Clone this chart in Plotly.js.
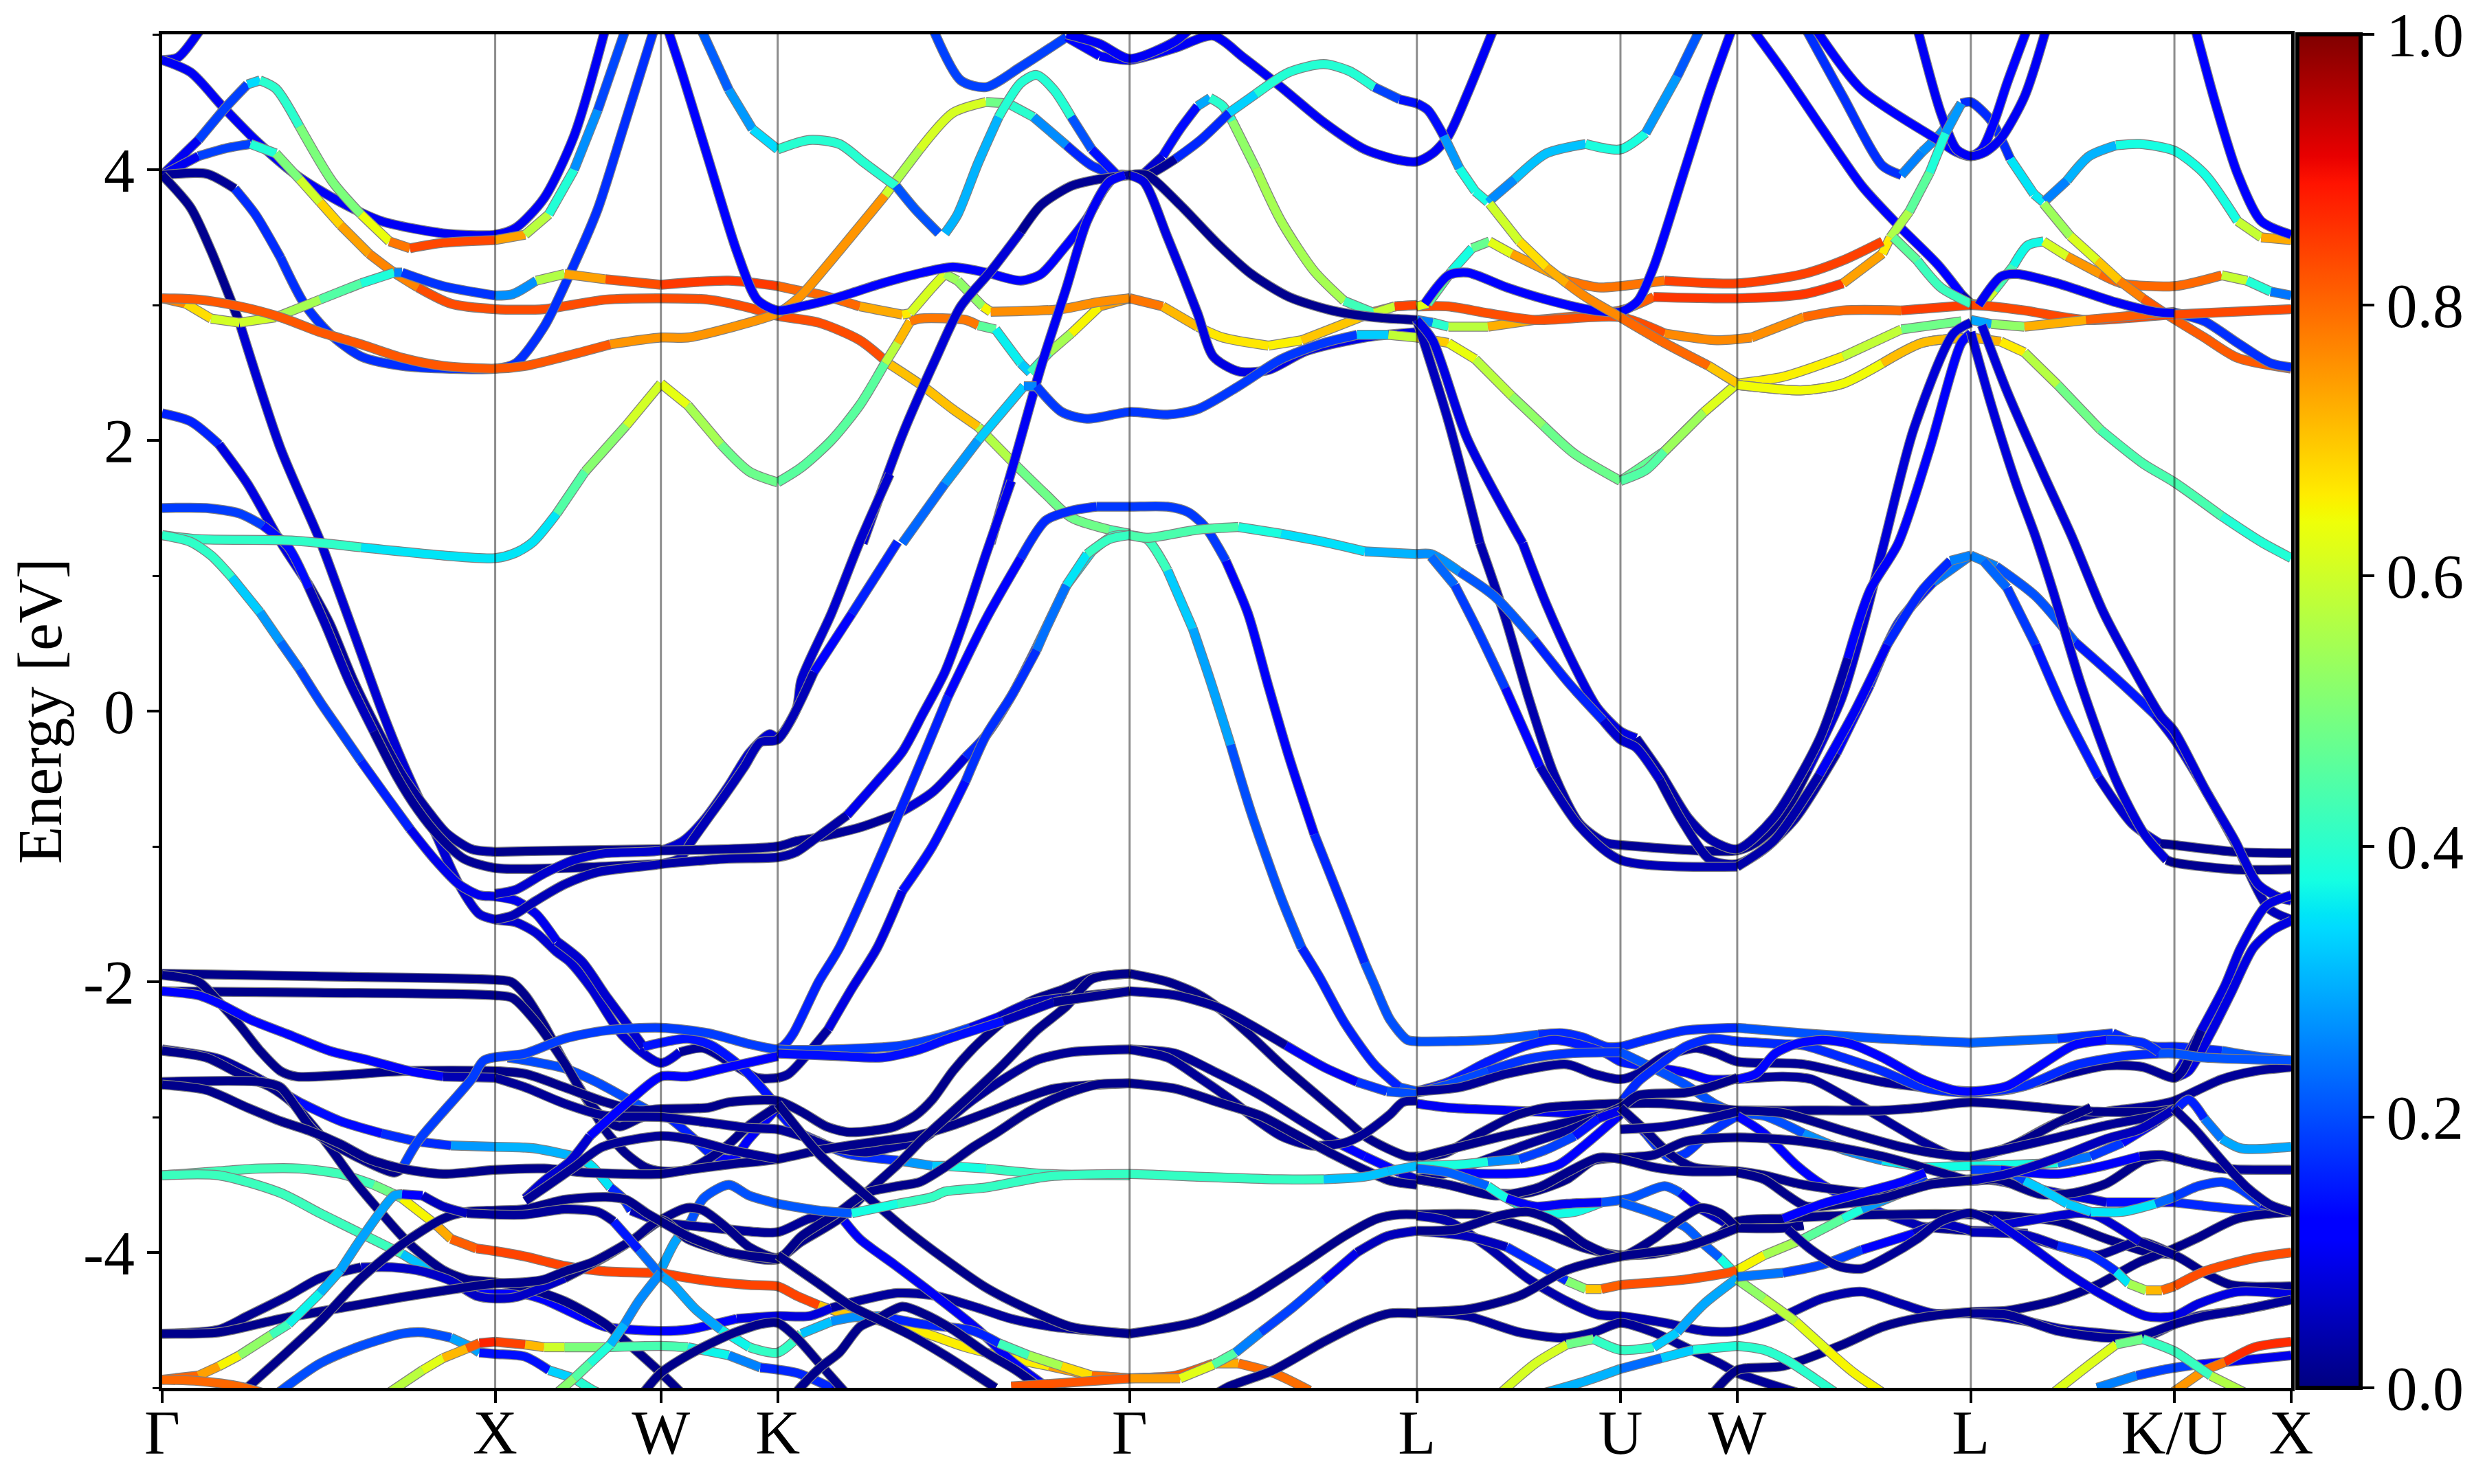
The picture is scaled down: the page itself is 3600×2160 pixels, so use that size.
<!DOCTYPE html>
<html><head><meta charset="utf-8"><script src="https://cdn.plot.ly/plotly-3.0.1.min.js"></script>
<style>html,body{margin:0;padding:0;background:#fff}</style></head><body><div id="g" style="width:3600px;height:2160px"></div>
<script>
var tickK=[103,314,419,493,716,898,1027,1101,1249,1378,1452];
var tickLabels=['Γ','X','W','K','Γ','L','U','W','L','K/U','X'];
var energyTicks=[-4,-2,0,2,4];
var energyTickText=['-4','-2','0','2','4'];
var energyMinor=[-5,-3,-1,1,3,5];
var weightTicks=[0,0.2,0.4,0.6,0.8,1];
var weightTickText=['0.0','0.2','0.4','0.6','0.8','1.0'];
// upper bands (k along the path, energy in eV, weight)
var k1=[103,113,128],e1=[4.81,4.83,5.05],w1=.07;
var k2=[103,121,141,162,188,216,242,281,314,327,345,364,384],e2=[4.81,4.72,4.47,4.22,3.96,3.76,3.62,3.53,3.52,3.57,3.79,4.25,5.05],w2=.07;
var k3=[103,126,144,157,165,175,190,211,229,247,260,281,314,333,348,364,379,397],e3=[3.96,4.22,4.47,4.63,4.66,4.6,4.32,3.91,3.67,3.47,3.42,3.46,3.48,3.52,3.67,4,4.44,5.05],w3=[.02,.15,.2,.3,.38,.42,.5,.5,.55,.72,.85,.82,.78,.7,.45,.33,.2,.18];
var k4=[103,126,144,159,175,190,203,216,234,250,265,286,314,345,384,419,449,475,493,519,545,563,585,604,620,641,663,679,703,716],e4=[3.96,4.1,4.16,4.19,4.12,3.93,3.76,3.59,3.38,3.24,3.13,3.01,2.97,2.97,3.04,3.05,3.04,2.98,2.92,2.87,2.74,2.57,2.4,2.23,2.1,1.85,1.6,1.43,1.34,1.31],w4=[.02,.15,.2,.33,.45,.55,.65,.72,.76,.78,.8,.82,.83,.84,.84,.84,.84,.84,.84,.83,.8,.72,.72,.68,.63,.5,.48,.47,.45,.42];
var k5=[103,131,149,162,178,193,209,229,255,314,327,345,364,379,395,415],e5=[3.96,3.97,3.86,3.67,3.35,3.01,2.79,2.62,2.55,2.53,2.57,2.84,3.3,3.71,4.3,5.05],w5=[.02,.02,.1,.17,.18,.18,.17,.17,.15,.12,.12,.12,.12,.12,.12,.12];
var k6=[103,121,134,152,178,203,216,229,242,255,265,276,291,304,314,327,340,353,361,375,395,419,431,446,462,480,493],e6=[3.96,3.72,3.4,2.87,1.94,1.26,.85,.43,.01,-.37,-.63,-.9,-1.28,-1.5,-1.54,-1.56,-1.64,-1.78,-1.85,-2.05,-2.4,-2.6,-2.52,-2.49,-2.59,-2.71,-2.71],w6=[.01,.01,.02,.05,.07,.07,.07,.07,.07,.07,.06,.05,.05,.04,.04,.04,.04,.04,.04,.05,.04,.03,.02,.02,.02,.02,.02];
var k7=[103,121,139,157,178,196,209,224,240,255,271,283,299,314,358,419],e7=[2.2,2.14,1.97,1.68,1.25,.93,.65,.23,-.15,-.47,-.73,-.9,-1.02,-1.04,-1.03,-1.02],w7=[.13,.1,.07,.06,.05,.04,.03,.03,.02,.02,.02,.02,.02,.01,.01,.01];
var k8=[103,131,152,167,183,196,206,221,237,252,265,278,294,314,358,419],e8=[1.5,1.5,1.46,1.37,1.21,.91,.65,.23,-.15,-.49,-.73,-.92,-1.09,-1.16,-1.16,-1.13],w8=[.18,.18,.14,.1,.08,.05,.04,.03,.02,.02,.02,.02,.02,.02,.02,.02];
var k9=[103,126,185,229,281,314,327,338,353,371,397,419,436,457,475,493,508,527,545,561,569,577,583,612,620,631,647,653,665,679,697,716],e9=[1.3,1.27,1.26,1.21,1.15,1.13,1.17,1.25,1.46,1.77,2.11,2.42,2.26,1.97,1.77,1.69,1.8,2,2.26,2.57,2.72,2.88,2.9,2.89,2.85,2.82,2.57,2.5,2.65,2.79,2.99,3.05],w9=[.42,.42,.38,.35,.33,.33,.36,.38,.42,.48,.55,.66,.6,.5,.46,.44,.45,.46,.48,.5,.65,.78,.82,.75,.5,.42,.3,.35,.5,.6,.7,.78];
var k10=[103,118,134,152,175,203,229,250,255,281,314,325,340,358,384,419,462,493,505,519,545,572,577,591,599,607,623,628,673,695,716,737,759,775,804,825,847,871,884,898],e10=[3.05,3.01,2.9,2.87,2.91,3.04,3.16,3.24,3.24,3.14,3.07,3.08,3.18,3.23,3.19,3.15,3.18,3.14,3.11,3.08,2.99,2.93,2.94,3.13,3.23,3.18,2.99,2.95,2.97,3.02,3.05,2.99,2.84,2.76,2.7,2.74,2.84,2.95,2.99,3],w10=[.82,.72,.63,.58,.62,.48,.42,.35,.12,.18,.25,.28,.45,.68,.8,.86,.84,.82,.8,.78,.76,.7,.62,.6,.58,.5,.55,.75,.75,.78,.82,.75,.68,.65,.63,.68,.72,.75,.83,.85];
var k11=[103,126,152,178,203,229,255,281,314,333,358,387,419,436,462,493,505,511,532,561,568,583,604,625,639,655,676,692,708,716],e11=[3.05,3.04,2.99,2.91,2.8,2.71,2.61,2.55,2.53,2.55,2.62,2.71,2.76,2.76,2.83,2.94,3.04,3.11,3.4,3.81,3.92,4.15,4.42,4.5,4.49,4.39,4.18,4.03,3.96,3.96],w11=[.82,.82,.83,.83,.84,.84,.83,.83,.8,.78,.78,.75,.74,.75,.77,.78,.76,.75,.72,.7,.5,.62,.6,.52,.45,.35,.15,.1,.02,.02];
var k12=[423,433,449,467,480,493,508,532,559,585,604,625,647,660,673,689,700,708,716],e12=[5.05,4.69,4.08,3.4,3.04,2.96,2.99,3.06,3.16,3.24,3.28,3.24,3.18,3.23,3.4,3.64,3.86,3.96,3.96],w12=.08;
var k13=[444,462,477,493,513,532,548,563,568,580,595],e13=[5.05,4.59,4.3,4.15,4.22,4.19,4.05,3.92,3.88,3.71,3.53],w13=[.17,.25,.3,.38,.4,.38,.4,.42,.22,.18,.07];
var k14=[599,607,620,633,647,657,668,679,692,708,716],e14=[3.53,3.67,4.05,4.39,4.64,4.7,4.59,4.39,4.15,3.96,3.96],w14=[.3,.3,.3,.38,.42,.42,.35,.25,.12,.08,.02];
var k15=[591,609,625,647,676,697,716,745,769,788,812,839,865,887,898,908,918,930,947],e15=[5.05,4.66,4.61,4.76,4.98,4.84,4.81,4.9,4.99,4.83,4.61,4.35,4.15,4.07,4.06,4.12,4.25,4.56,5.05],w15=[.2,.18,.18,.14,.1,.07,.07,.07,.06,.06,.06,.06,.07,.07,.07,.08,.08,.08,.08];
var k16=[676,697,716,745,755],e16=[5,4.93,4.82,4.95,5.05],w16=.07;
var k17=[547,572,593,609,628,647,660,679,692,716],e17=[1.24,2.04,2.6,2.99,3.25,3.54,3.74,3.88,3.92,3.96],w17=[.06,.06,.06,.05,.04,.03,.02,.01,.01,.01];
var k18=[628,644,660,676,689,703,713],e18=[1.24,1.89,2.55,3.13,3.62,3.91,3.96],w18=.07;
var k19=[724,737,748,759,767,775,781,796,812,833,852,871,884,898],e19=[3.96,4.1,4.3,4.47,4.53,4.47,4.36,4.01,3.62,3.25,3.03,2.94,2.99,3],w19=[.02,.08,.1,.2,.38,.42,.5,.55,.55,.55,.5,.35,.83,.85];
var k20=[716,727,745,761,779,796,817,839,855,871,887,898,905,915,925,935,943,945,960,980,1005,1027,1043,1063,1078],e20=[3.96,3.96,4.08,4.22,4.42,4.56,4.72,4.78,4.73,4.61,4.52,4.49,4.44,4.25,4.01,3.84,3.76,3.78,3.93,4.12,4.19,4.15,4.27,4.69,5.05],w20=[.02,.02,.1,.15,.28,.38,.42,.42,.35,.22,.12,.08,.1,.2,.35,.4,.35,.22,.3,.33,.38,.38,.33,.22,.2];
var k21=[716,727,748,772,793,817,844,871,898],e21=[3.96,3.96,3.74,3.45,3.23,3.06,2.96,2.91,2.89],w21=[.01,.01,.01,.01,.01,.01,.02,.02,.02];
var k22=[716,725,740,759,769,785,804,828,865,898],e22=[3.96,3.91,3.5,2.94,2.62,2.51,2.52,2.66,2.76,2.8],w22=.06;
var k23=[572,599,620,649,657,673,689,716,740,759,785,812,839,860,880,898,918,935,958,978,998,1027,1055,1080,1101],e23=[1.24,1.68,2,2.4,2.4,2.21,2.16,2.21,2.19,2.23,2.4,2.6,2.72,2.78,2.78,2.76,2.72,2.6,2.33,2.11,1.9,1.7,1.92,2.21,2.42],w23=[.2,.25,.3,.35,.12,.15,.17,.15,.15,.15,.17,.18,.18,.2,.45,.72,.67,.6,.55,.5,.46,.44,.5,.58,.66];
var k24=[898,908,918,943,973,1027,1048,1101,1143,1168,1193,1198],e24=[2.89,2.87,2.84,2.84,2.89,2.96,3.06,3.05,3.08,3.16,3.38,3.5],w24=[.2,.3,.5,.65,.8,.82,.85,.86,.85,.78,.7,.62];
var k25=[898,918,943,973,1027,1055,1088,1110,1143,1168,1205,1249],e25=[2.99,2.99,2.94,2.89,2.91,2.79,2.74,2.76,2.91,2.96,2.96,3],w25=[.83,.83,.83,.83,.82,.78,.75,.74,.78,.82,.84,.85];
var k26=[898,905,920,933,944,958,993,1013,1027,1055,1101,1143,1168,1193],e26=[2.99,3.01,3.25,3.42,3.47,3.38,3.18,3.13,3.14,3.18,3.16,3.23,3.33,3.47],w26=[.7,.55,.35,.4,.55,.7,.78,.78,.8,.84,.85,.85,.83,.7];
var k27=[903,918,930,955,980,1010,1027,1038,1048,1068,1083,1098],e27=[3.01,3.22,3.24,3.13,3.04,2.96,2.95,3.03,3.28,4.01,4.56,5.05],w27=.08;
var k28=[944,963,980,993,1005,1027,1055,1083,1101,1130,1168,1205,1243],e28=[3.75,3.47,3.28,3.16,3.06,2.91,2.72,2.55,2.42,2.47,2.62,2.82,2.88],w28=[.55,.65,.7,.75,.78,.82,.78,.72,.66,.65,.62,.55,.42];
var k29=[1101,1143,1168,1193,1218,1249,1268,1283,1304,1331,1358,1378,1408,1433,1452],e29=[2.41,2.37,2.42,2.57,2.72,2.76,2.73,2.65,2.41,2.08,1.83,1.69,1.44,1.25,1.13],w29=[.65,.63,.65,.7,.72,.74,.7,.62,.52,.45,.44,.42,.4,.38,.33];
var k30=[1110,1130,1155,1180,1203,1228,1243,1249],e30=[5.05,4.73,4.3,3.88,3.59,3.3,3.08,3.01],w30=[.08,.08,.08,.08,.08,.07,.04,.03];
var k31=[1144,1168,1193,1205,1218,1230,1243,1249,1262,1274,1289,1295],e31=[5.05,4.54,4.03,3.96,4.13,4.27,4.49,4.5,4.36,4.08,3.82,3.76],w31=[.12,.15,.15,.22,.28,.25,.12,.1,.18,.32,.38,.33];
var k32=[1150,1180,1228,1240,1249,1256,1264,1272,1285],e32=[5.05,4.59,4.22,4.13,4.1,4.15,4.36,4.64,5.05],w32=.08;
var k33=[1215,1230,1240,1249,1258,1268,1283,1297],e33=[5.05,4.42,4.15,4.1,4.13,4.23,4.54,5.05],w33=.07;
var k34=[1198,1210,1223,1233,1243],e34=[3.5,3.69,3.98,4.27,4.49],w34=[.62,.5,.42,.35,.2];
var k35=[1200,1215,1230,1249,1256,1264,1276,1285,1295,1310,1331,1345,1378,1408,1424,1439,1452],e35=[3.5,3.33,3.13,3.01,3,3.11,3.29,3.44,3.47,3.36,3.23,3.16,3.14,3.22,3.18,3.1,3.07],w35=[.5,.42,.42,.65,.7,.5,.36,.38,.5,.72,.78,.82,.8,.68,.5,.28,.2];
var k36=[1296,1310,1324,1341,1356,1378,1397,1418,1433,1452],e36=[3.77,3.92,4.1,4.18,4.19,4.14,3.97,3.62,3.5,3.48],w36=[.22,.28,.32,.36,.38,.38,.38,.5,.68,.78];
var k37=[1295,1312,1329,1343,1358,1376,1397,1418,1452],e37=[3.75,3.51,3.33,3.18,3.05,2.91,2.76,2.61,2.53],w37=[.5,.58,.65,.75,.8,.82,.8,.82,.83];
var k38=[1376,1397,1418,1439,1452],e38=[2.95,2.88,2.72,2.57,2.54],w38=.14;
var k39=[1391,1404,1418,1433,1452],e39=[5.05,4.49,3.97,3.62,3.52],w39=.08;
var k40=[1249,1262,1283,1322,1378,1452],e40=[3,2.99,2.96,2.89,2.93,2.97],w40=[.85,.83,.82,.82,.83,.85];
var k41=[1249,1262,1283,1322,1378],e41=[2.89,2.86,2.84,2.89,2.95],w41=[.15,.4,.65,.8,.82];
var k42=[1254,1268,1278,1304,1341,1366,1378],e42=[3,3.21,3.23,3.16,3.02,2.95,2.94],w42=.07;
var k43=[1027,1043,1055,1080,1101],e43=[1.7,1.78,1.92,2.21,2.42],w43=[.44,.46,.5,.58,.66];
var k44=[1027,1055,1083,1101],e44=[2.91,2.72,2.55,2.42],w44=[.82,.78,.72,.68];
var k45=[1101,1143,1168,1193,1218,1249],e45=[2.41,2.37,2.42,2.57,2.72,2.76],w45=[.65,.63,.65,.7,.72,.75];
var k46=[898,918,938],e46=[2.89,2.14,1.24],w46=.04;
var k47=[898,908,930,965],e47=[2.89,2.74,2.01,1.24],w47=.06;
var k48=[938,954,969,985,1001,1017,1027,1101,1113,1128,1146,1167,1182,1194,1213,1238,1249],e48=[1.24,.69,.09,-.47,-.83,-.97,-.99,-1.03,-.97,-.81,-.43,.09,.69,1.24,2.09,2.79,2.87],w48=[.04,.04,.04,.03,.02,.02,.01,.01,.02,.03,.05,.06,.06,.06,.06,.06,.03];
var k49=[965,980,998,1012,1027,1037,1052,1070,1084,1101,1124,1153,1171,1185,1203,1223,1243,1249],e49=[1.24,.79,.33,.03,-.15,-.2,-.45,-.79,-.95,-1.02,-.79,-.21,.39,.89,1.24,1.94,2.72,2.79],w49=[.07,.07,.06,.05,.05,.04,.03,.02,.02,.02,.03,.05,.07,.08,.08,.08,.06,.04];
var k50=[898,907,925,947,972,994,1016,1027,1037,1052,1066,1084,1101,1117,1138,1164,1185,1203,1225,1249],e50=[1.16,1.16,1.03,.85,.53,.21,-.07,-.21,-.27,-.51,-.81,-1.1,-1.13,-1.03,-.79,-.31,.19,.65,.95,1.15],w50=[.28,.25,.22,.2,.13,.1,.06,.05,.04,.03,.02,.02,.02,.03,.05,.07,.1,.12,.2,.28];
var k51=[907,922,936,954,976,1001,1027,1101,1124,1153,1175,1196,1218,1236,1249],e51=[1.14,.93,.61,.17,-.41,-.85,-1.1,-1.15,-.96,-.47,-.01,.49,.89,1.11,1.15],w51=[.25,.2,.13,.1,.05,.03,.03,.02,.04,.06,.08,.1,.15,.22,.28];
var k52=[1249,1265,1290,1315,1344,1366,1378,1398,1420,1438,1452],e52=[1.15,1.07,.85,.51,.21,-.03,-.21,-.59,-1.05,-1.46,-1.54],w52=[.28,.22,.18,.12,.09,.07,.06,.05,.04,.04,.04];
var k53=[1257,1272,1290,1308,1330,1351,1369,1378,1416,1452],e53=[1.11,.91,.49,.01,-.49,-.83,-.98,-.99,-1.04,-1.05],w53=[.25,.2,.12,.09,.06,.04,.02,.02,.01,.01];
var k54=[1249,1262,1278,1290,1301,1319,1341,1359,1373,1378,1416,1452],e54=[2.8,2.26,1.67,1.29,.89,.19,-.51,-.91,-1.1,-1.12,-1.17,-1.17],w54=[.05,.06,.07,.07,.06,.06,.05,.03,.02,.02,.01,.01];
var k55=[1256,1272,1295,1313,1333,1355,1369,1378,1398,1416,1431,1445,1452],e55=[2.85,2.36,1.75,1.29,.73,.25,-.03,-.15,-.59,-.95,-1.28,-1.38,-1.4],w55=[.06,.07,.07,.07,.07,.07,.06,.05,.04,.04,.04,.04,.04];
// mid bands
var k56=[103,121,134,147,165,178,190,203,216,229,245,260,276,291,304,314,327,340,353,369,384,398,408,419,436,451,470,489,493,505,519,537,569,591,599,625,663,716],e56=[1.3,1.25,1.15,.99,.73,.51,.31,.07,-.15,-.37,-.63,-.87,-1.1,-1.28,-1.36,-1.37,-1.4,-1.5,-1.7,-1.85,-2.1,-2.32,-2.48,-2.45,-2.42,-2.47,-2.63,-2.87,-2.95,-3.1,-3.18,-3.27,-3.32,-3.36,-3.36,-3.38,-3.42,-3.43],w56=[.42,.42,.38,.35,.3,.25,.2,.18,.15,.12,.1,.08,.07,.07,.06,.06,.06,.06,.05,.05,.05,.05,.08,.1,.1,.08,.1,.1,.1,.1,.12,.15,.25,.3,.35,.4,.42,.42];
var k57=[314,327,345,364,384,419,433,446,462,475,488,493,505,508,527,545,564],e57=[-1.35,-1.32,-1.2,-1.1,-1.05,-1.03,-.96,-.81,-.55,-.31,-.17,-.2,.02,.23,.72,1.25,1.75],w57=.05;
var k58=[314,325,340,358,379,419,431,438,449,459,472,482,493,516,540,569],e58=[-1.54,-1.51,-1.4,-1.28,-1.19,-1.13,-1.09,-.97,-.79,-.63,-.41,-.23,-.21,.29,.72,1.25],w58=[.04,.04,.03,.03,.03,.03,.03,.03,.03,.04,.05,.05,.05,.07,.1,.13];
var k59=[419,493,505,516,545,569,591,612,625,641,657,676,692,705,716],e59=[-1.03,-1,-.96,-.94,-.86,-.76,-.6,-.34,-.18,.11,.47,.93,1.18,1.29,1.3],w59=[.02,.02,.02,.02,.03,.05,.06,.1,.12,.15,.2,.3,.4,.42,.42];
var k60=[419,462,493,505,516,537,556,572,585,599,612,625,641],e60=[-1.13,-1.09,-1.08,-1.04,-.95,-.77,-.52,-.3,-.02,.29,.7,1.16,1.7],w60=[.02,.02,.03,.03,.04,.05,.06,.07,.07,.07,.07,.07,.07];
var k61=[493,497,503,519,532,572,601,625,647,663,679,695,716,740,753,764,777,791,804,817,833,852,865,871,881,892,898,943,975,990,1003,1018,1027,1043,1068,1101,1143,1193,1249,1304,1339,1354,1366,1378,1408,1429,1452],e61=[-2.5,-2.47,-2.38,-2,-1.75,-.7,.11,.68,1.13,1.41,1.48,1.51,1.51,1.51,1.47,1.36,1.11,.72,.18,-.34,-.91,-1.47,-1.86,-2.02,-2.28,-2.43,-2.44,-2.43,-2.39,-2.38,-2.41,-2.48,-2.48,-2.43,-2.36,-2.34,-2.38,-2.42,-2.45,-2.42,-2.38,-2.45,-2.48,-2.48,-2.51,-2.55,-2.58],w61=[.15,.12,.1,.1,.1,.1,.07,.08,.1,.12,.17,.18,.18,.18,.15,.12,.07,.07,.07,.08,.1,.15,.2,.2,.2,.2,.22,.2,.12,.1,.1,.12,.15,.15,.17,.2,.2,.22,.25,.18,.1,.1,.15,.15,.2,.22,.25];
var k62=[493,500,525,540,556,572,591,612,625,641,657,663,676,689,703,716],e62=[-2.71,-2.68,-2.35,-2.05,-1.75,-1.33,-1,-.52,-.18,.11,.45,.61,.93,1.16,1.27,1.3],w62=[.02,.03,.05,.06,.07,.08,.1,.12,.14,.16,.22,.25,.3,.4,.42,.42];
var k63=[716,727,740,756,767,780,793,812,825,836,852,871,887,898],e63=[1.3,1.27,1.04,.61,.23,-.25,-.75,-1.38,-1.75,-1.96,-2.3,-2.61,-2.78,-2.81],w63=[.42,.42,.35,.3,.27,.22,.2,.17,.1,.1,.1,.14,.2,.2];
var k64=[419,428,438,446,462,475,493],e64=[-4.13,-3.92,-3.77,-3.6,-3.5,-3.58,-3.64],w64=[.3,.27,.2,.2,.2,.2,.22];
var k65=[716,727,759,785,812,839,865,898],e65=[1.3,1.28,1.34,1.36,1.31,1.25,1.18,1.16],w65=[.45,.45,.42,.4,.36,.33,.3,.3];
var k66=[322,333,358,378,397,419,423,451,464,475,493],e66=[-2.56,-2.58,-2.64,-2.74,-2.86,-3,-3,-3.28,-3.31,-3.16,-2.93],w66=[.2,.2,.2,.2,.18,.12,.1,.08,.08,.06,.03];
var k67=[1378,1395,1410,1420,1436,1452],e67=[-2.71,-2.36,-2.03,-1.75,-1.44,-1.36],w67=.06;
var k68=[1378,1387,1401,1414,1428,1440,1452],e68=[-2.71,-2.66,-2.38,-2.08,-1.75,-1.62,-1.55],w68=.06;
// lower bands
var k69=[103,200,314,324,333,345,358,371,384,397,409,419,436,449,462,475,493],e69=[-1.94,-1.96,-1.985,-2,-2.1,-2.32,-2.6,-2.85,-3.1,-3.27,-3.37,-3.4,-3.39,-3.31,-3.2,-3.06,-2.92],w69=.01;
var k70=[103,200,314,325,340,358,371,384,393,405,419],e70=[-2.07,-2.08,-2.1,-2.12,-2.3,-2.6,-2.85,-3.02,-3.07,-3.01,-2.95],w70=.01;
var k71=[103,126,139,152,165,178,188,216,255,314,333,358,384,405,419,449,462,493,508,524,537,553,567,580,591,604,617,633,652,673,692,716],e71=[-1.95,-2,-2.15,-2.32,-2.51,-2.66,-2.7,-2.69,-2.66,-2.66,-2.68,-2.78,-2.89,-2.95,-2.94,-2.93,-2.89,-2.88,-2.96,-3.07,-3.11,-3.1,-3.07,-2.99,-2.87,-2.66,-2.49,-2.32,-2.15,-2.06,-1.97,-1.94],w71=.01;
var k72=[103,126,139,159,183,209,234,260,281,314,333,358,384,419,449,475,493,508,513,527,548,567,585,604,617,636,657,679,716],e72=[-2.07,-2.1,-2.16,-2.28,-2.39,-2.51,-2.58,-2.66,-2.7,-2.71,-2.78,-2.9,-2.99,-3,-3.04,-3.08,-3.09,-3.14,-3.16,-3.22,-3.26,-3.22,-3.16,-2.99,-2.87,-2.72,-2.58,-2.52,-2.5],w72=[.08,.08,.08,.08,.08,.08,.1,.1,.05,.02,.02,.02,.02,.02,.02,.02,.02,.02,.02,.02,.02,.02,.02,.02,.02,.02,.02,.02,.02];
var k73=[103,139,165,190,216,237,250,255,276,286,302,314,333,358,384,410,419,423,449,475,493,505,519,540,556,585,612,636,665,692,716],e73=[-3.43,-3.4,-3.38,-3.38,-3.42,-3.5,-3.57,-3.6,-3.79,-3.9,-3.97,-3.99,-4.03,-4.1,-4.14,-4.15,-4.15,-4.16,-4.21,-4.24,-4.25,-4.32,-4.39,-4.47,-4.5,-4.59,-4.7,-4.77,-4.84,-4.91,-4.93],w73=[.42,.42,.42,.42,.45,.47,.5,.62,.68,.78,.84,.85,.84,.84,.87,.87,.85,.82,.8,.83,.83,.83,.72,.68,.65,.65,.65,.68,.7,.78,.84];
var k74=[103,139,178,203,229,255,271,296,307,333,345,371,384,419,436,467,493,513,527,543,569,593,620,641,668,716],e74=[-3.43,-3.43,-3.56,-3.71,-3.86,-4.01,-4.12,-4.26,-4.3,-4.31,-4.35,-4.49,-4.55,-4.58,-4.57,-4.49,-4.47,-4.47,-4.41,-4.36,-4.3,-4.32,-4.41,-4.49,-4.55,-4.6],w74=[.42,.42,.42,.42,.42,.33,.3,.1,.08,.08,.08,.08,.08,.08,.08,.07,.05,.05,.04,.02,.02,.02,.02,.02,.02,.02];
var k75=[103,139,165,190,216,242,265,286,314,338,364,374,387,395,400,419,436,462,493,513,532,545,567,593,620,641,663],e75=[-2.5,-2.57,-2.72,-2.89,-3.03,-3.12,-3.18,-3.21,-3.22,-3.23,-3.29,-3.35,-3.52,-3.6,-3.69,-3.78,-3.8,-3.83,-3.85,-3.75,-3.72,-3.9,-4.09,-4.32,-4.57,-4.8,-4.99],w75=[.02,.03,.05,.08,.1,.12,.15,.25,.3,.3,.35,.35,.15,.1,.05,.02,.02,.02,.02,.02,.07,.07,.07,.07,.07,.07,.07];
var k76=[103,131,152,172,185,196,209,224,242,260,281,296,314,333,358,384,397,419,433],e76=[-2.51,-2.56,-2.68,-2.78,-2.89,-3.03,-3.22,-3.46,-3.71,-3.94,-4.13,-4.2,-4.22,-4.26,-4.36,-4.53,-4.66,-4.89,-5.05],w76=.01;
var k77=[103,165,178,188,196,203,229,250,255,265,299,307,333,358,384,419,449,475,493,527,572,596,615,633,652,673,716],e77=[-2.74,-2.74,-2.78,-2.93,-3.06,-3.14,-3.31,-3.41,-3.38,-3.18,-2.72,-2.58,-2.53,-2.42,-2.36,-2.34,-2.38,-2.46,-2.5,-2.5,-2.47,-2.41,-2.34,-2.26,-2.16,-2.12,-2.07],w77=[.01,.01,.01,.01,.01,.01,.01,.01,.15,.15,.15,.2,.2,.2,.2,.2,.18,.12,.18,.2,.12,.1,.08,.05,.03,.01,.01];
var k78=[103,131,157,178,196,216,234,255,281,314,345,371,419,436,462,493,521,556,580,604,625,647,668,716],e78=[-2.76,-2.8,-2.93,-3.03,-3.1,-3.2,-3.31,-3.38,-3.42,-3.39,-3.38,-3.41,-3.42,-3.39,-3.35,-3.31,-3.24,-3.18,-3.14,-3.06,-2.97,-2.87,-2.79,-2.75],w78=.01;
var k79=[103,139,157,183,203,229,250,268,286,302,314,327,358,384,402,419,436,446,462,475,493,508,532,549,569,585,601,617,636,657,676,692,716],e79=[-4.6,-4.57,-4.47,-4.32,-4.19,-4.11,-4.11,-4.14,-4.21,-4.32,-4.34,-4.33,-4.19,-4.03,-3.9,-3.76,-3.67,-3.69,-3.83,-3.96,-4.04,-3.92,-3.75,-3.56,-3.35,-3.16,-2.99,-2.82,-2.61,-2.36,-2.18,-1.98,-1.94],w79=[.01,.01,.02,.02,.02,.04,.05,.05,.05,.05,.06,.02,.01,.01,.01,.01,.01,.01,.01,.01,.01,.01,.01,.01,.01,.01,.01,.01,.01,.01,.01,.01,.01];
var k80=[103,139,178,216,255,294,314,333,345,358,376,402,419,436,462,493,508,532,549,569,583,599,617,631,652,673,695,716],e80=[-4.6,-4.59,-4.49,-4.41,-4.33,-4.26,-4.23,-4.22,-4.2,-4.14,-4.07,-3.9,-3.76,-3.9,-4,-4.05,-3.88,-3.7,-3.56,-3.51,-3.48,-3.37,-3.22,-3.12,-2.96,-2.84,-2.76,-2.75],w80=.01;
var k81=[152,178,203,229,255,281,296,314,333,358,384,397,410,419,436,453,462,493],e81=[-5.05,-4.78,-4.51,-4.19,-3.94,-3.75,-3.7,-3.69,-3.68,-3.61,-3.59,-3.61,-3.71,-3.77,-3.88,-3.96,-4,-4.05],w81=.01;
var k82=[103,126,139,152,172,183,203,216,229,250,255,268,281,296,314,333,358,379,389,405,419,426,441,457,475,493,508,527,540,558,585,617,633,652,673,692,716],e82=[-4.94,-4.91,-4.84,-4.76,-4.61,-4.53,-4.3,-4.13,-3.9,-3.58,-3.57,-3.58,-3.66,-3.71,-3.72,-3.72,-3.68,-3.7,-3.77,-3.98,-4.17,-4.23,-4.42,-4.57,-4.7,-4.74,-4.6,-4.51,-4.48,-4.47,-4.53,-4.58,-4.67,-4.76,-4.84,-4.91,-4.93],w82=[.83,.78,.7,.6,.45,.4,.33,.28,.27,.3,.15,.05,.03,.02,.02,.02,.02,.03,.08,.15,.28,.28,.3,.33,.4,.42,.35,.28,.25,.1,.1,.15,.35,.5,.6,.75,.84];
var k83=[103,126,152,170],e83=[-4.94,-4.95,-4.99,-5.05],w83=.8;
var k84=[175,203,229,255,268,286,299,304,314,333,348,364,378,395],e84=[-5.05,-4.82,-4.69,-4.6,-4.59,-4.63,-4.7,-4.74,-4.75,-4.77,-4.87,-4.93,-5.03,-5.1],w84=[.2,.2,.2,.2,.2,.1,.42,.1,.08,.1,.28,.38,.4,.4];
var k85=[245,268,281,296,304,314,333,345,358,384,419,436,462,482,505,527,540],e85=[-5.05,-4.87,-4.78,-4.71,-4.67,-4.66,-4.68,-4.7,-4.7,-4.7,-4.69,-4.7,-4.76,-4.85,-4.89,-5,-5.05],w85=[.55,.6,.65,.78,.85,.9,.78,.65,.55,.45,.42,.4,.33,.15,.1,.07,.07];
var k86=[352,364,374,387,396,405,419],e86=[-5.05,-4.93,-4.82,-4.68,-4.53,-4.36,-4.15],w86=[.55,.48,.42,.35,.25,.25,.28];
var k87=[407,419,436,462,482,493,505,521,537],e87=[-5.05,-4.89,-4.76,-4.61,-4.53,-4.52,-4.63,-4.84,-5.05],w87=.01;
var k88=[500,508,521,532,545,556,572,585,604,625,644,665],e88=[-5.1,-4.99,-4.84,-4.74,-4.55,-4.49,-4.4,-4.45,-4.57,-4.74,-4.87,-5.05],w88=.01;
var k89=[493,519,540,556,577,599,631],e89=[-4.02,-4.23,-4.4,-4.49,-4.61,-4.76,-5],w89=.01;
var k90=[641,679,716,745,769,785,807,830],e90=[-4.99,-4.96,-4.93,-4.91,-4.82,-4.82,-4.89,-5.02],w90=[.82,.82,.84,.8,.68,.78,.8,.8];
var k91=[716,748,769,783,799,820,839,860,879,898],e91=[-4.93,-4.93,-4.83,-4.74,-4.59,-4.4,-4.21,-4,-3.88,-3.84],w91=[.84,.65,.6,.3,.2,.15,.08,.05,.03,.02];
var k92=[770,779,807,839,865,881,898],e92=[-5.05,-4.99,-4.87,-4.66,-4.51,-4.45,-4.45],w92=.01;
var k93=[716,759,791,825,852,873,887,898],e93=[-4.6,-4.51,-4.34,-4.09,-3.88,-3.75,-3.72,-3.72],w93=.01;
var k94=[493,519,532,551,572,599,625,652,679,716],e94=[-2.9,-3.27,-3.41,-3.6,-3.81,-4.05,-4.26,-4.42,-4.55,-4.6],w94=.01;
var k95=[716,740,759,772,791,812,833,852,865,879,892,898],e95=[-1.94,-2,-2.09,-2.19,-2.38,-2.61,-2.82,-3.01,-3.14,-3.23,-3.29,-3.29],w95=.01;
var k96=[716,745,772,793,815,839,860,879,898],e96=[-2.07,-2.1,-2.19,-2.32,-2.47,-2.63,-2.74,-2.81,-2.83],w96=[.01,.01,.02,.03,.07,.07,.1,.2,.2];
var k97=[716,745,769,799,825,846,865,887,898],e97=[-2.5,-2.53,-2.66,-2.84,-3.03,-3.18,-3.29,-3.41,-3.46],w97=[.01,.01,.02,.02,.03,.05,.1,.06,.03];
var k98=[716,740,759,780,793,812,831,852,865,881,889,898],e98=[-2.5,-2.56,-2.7,-2.87,-2.99,-3.14,-3.21,-3.19,-3.12,-2.98,-2.89,-2.88],w98=.02;
var k99=[716,745,772,799,820,844,865,881,898],e99=[-2.75,-2.79,-2.89,-2.99,-3.12,-3.27,-3.39,-3.47,-3.5],w99=.01;
var k100=[493,519,540,569,591,599,625,663,716,759,812,839,865,880,898],e100=[-3.64,-3.69,-3.71,-3.64,-3.59,-3.55,-3.52,-3.44,-3.42,-3.44,-3.46,-3.46,-3.44,-3.4,-3.36],w100=[.22,.2,.35,.4,.4,.42,.42,.42,.42,.42,.4,.33,.3,.2,.42];
var k101=[493,532,559,583,599,617,636,668,716],e101=[-2.53,-2.55,-2.56,-2.5,-2.43,-2.36,-2.29,-2.15,-2.07],w101=[.1,.12,.12,.08,.08,.08,.05,.02,.01];
var k102=[333,345,361,374,400,419,436,462,493],e102=[-3.6,-3.47,-3.33,-3.14,-2.87,-2.7,-2.7,-2.63,-2.55],w102=[.04,.05,.06,.08,.08,.08,.08,.08,.08];
// L to U to W
var k103=[898,918,943,968,985,1000,1018,1027,1048,1068,1083,1101,1130,1148,1168,1193,1218,1238,1249,1272,1304,1335,1362,1378,1391,1408,1429,1452],e103=[-2.81,-2.74,-2.59,-2.47,-2.43,-2.46,-2.53,-2.59,-2.63,-2.67,-2.72,-2.72,-2.7,-2.72,-2.84,-3.01,-3.18,-3.29,-3.3,-3.23,-3.04,-2.96,-2.92,-2.88,-2.81,-2.72,-2.66,-2.63],w103=[.1,.1,.1,.1,.1,.1,.1,.1,.07,.07,.07,.04,.02,.02,.02,.02,.02,.02,.02,.02,.02,.02,.02,.02,.02,.02,.02,.02];
var k104=[898,918,943,968,993,1027,1043,1068,1088,1101,1118,1143,1168,1193,1218,1249,1279,1304,1325,1345,1366,1378],e104=[-2.82,-2.76,-2.66,-2.57,-2.53,-2.52,-2.61,-2.76,-2.91,-2.97,-2.99,-3.12,-3.24,-3.32,-3.37,-3.36,-3.35,-3.34,-3.29,-3.19,-3.04,-2.94],w104=[.2,.18,.12,.15,.17,.2,.2,.2,.2,.2,.22,.25,.28,.33,.38,.38,.36,.28,.2,.12,.07,.05];
var k105=[898,925,955,993,1010,1027,1038,1055,1075,1088,1101,1143,1193,1249,1272,1304,1335,1358,1378,1383,1395],e105=[-2.81,-2.78,-2.68,-2.61,-2.68,-2.72,-2.68,-2.55,-2.49,-2.53,-2.59,-2.61,-2.74,-2.81,-2.8,-2.7,-2.62,-2.63,-2.71,-2.66,-2.36],w105=.02;
var k106=[1027,1038,1050,1068,1085,1101,1130,1143,1168,1193,1218,1249,1283,1314,1345,1368,1378,1397,1452],e106=[-2.9,-2.74,-2.63,-2.48,-2.42,-2.44,-2.46,-2.47,-2.56,-2.66,-2.78,-2.82,-2.77,-2.62,-2.55,-2.53,-2.53,-2.56,-2.58],w106=[.1,.1,.1,.1,.1,.12,.14,.15,.15,.15,.15,.15,.15,.15,.15,.2,.2,.22,.25];
var k107=[1101,1113,1125,1138,1155,1173,1193,1218,1238,1249,1272,1293,1314,1335,1358,1368],e107=[-2.72,-2.68,-2.53,-2.46,-2.43,-2.46,-2.56,-2.72,-2.8,-2.81,-2.77,-2.62,-2.47,-2.43,-2.45,-2.52],w107=[.08,.08,.08,.08,.08,.08,.08,.08,.08,.1,.1,.1,.1,.12,.15,.2];
var k108=[898,918,955,993,1027],e108=[-2.9,-2.93,-2.95,-2.97,-2.99],w108=.07;
var k109=[898,915,938,960,980,1005,1027,1055,1101,1143,1193,1218,1249,1304,1329,1366,1378],e109=[-3.29,-3.27,-3.12,-2.99,-2.93,-2.91,-2.9,-2.9,-2.95,-2.95,-2.95,-2.93,-2.89,-2.94,-2.96,-2.96,-2.94],w109=.01;
var k110=[1101,1130,1168,1205,1228,1249,1266,1283,1304,1325],e110=[-2.95,-2.97,-3.1,-3.22,-3.27,-3.29,-3.25,-3.17,-3.04,-2.93],w110=.01;
var k111=[898,925,960,993,1013,1027,1038,1068,1083,1101],e111=[-3.3,-3.22,-3.12,-3.04,-2.99,-2.93,-2.84,-2.82,-2.78,-2.71],w111=.01;
var k112=[898,918,938,968,998,1027],e112=[-3.46,-3.41,-3.33,-3.2,-3.08,-2.93],w112=.02;
var k113=[898,925,968,988,1005,1023,1027],e113=[-3.35,-3.41,-3.41,-3.35,-3.2,-3.02,-2.98],w113=.08;
var k114=[898,925,943,963,980,998,1013,1027],e114=[-3.36,-3.35,-3.33,-3.31,-3.24,-3.14,-3.01,-2.95],w114=[.38,.38,.32,.2,.15,.12,.08,.05];
var k115=[1027,1043,1058,1068,1083,1101,1118,1138,1155,1175,1193,1218,1249,1285],e115=[-2.93,-3.12,-3.3,-3.27,-3.12,-2.99,-3.12,-3.35,-3.5,-3.62,-3.71,-3.81,-3.84,-3.86],w115=[.05,.15,.15,.15,.15,.08,.08,.08,.08,.08,.05,.02,.02,.02];
var k116=[1027,1043,1058,1073,1101,1118,1143,1193,1228,1249,1266,1304,1335,1356,1378,1393,1418,1452],e116=[-2.93,-3.1,-3.27,-3.37,-3.4,-3.43,-3.5,-3.56,-3.48,-3.46,-3.47,-3.56,-3.63,-3.63,-3.63,-3.65,-3.68,-3.7],w116=[.01,.01,.01,.01,.01,.01,.01,.01,.01,.02,.04,.06,.08,.1,.12,.12,.12,.14];
var k117=[1027,1055,1083,1101],e117=[-3.09,-3.07,-3.01,-2.96],w117=.02;
var k118=[898,918,943,968,993,1010,1027,1048,1068,1101,1143,1193,1230,1249,1266,1293,1314,1335,1358,1370,1378,1387,1408,1452],e118=[-3.46,-3.5,-3.56,-3.56,-3.46,-3.32,-3.3,-3.28,-3.18,-3.15,-3.18,-3.29,-3.41,-3.47,-3.46,-3.57,-3.56,-3.49,-3.32,-3.29,-3.3,-3.33,-3.38,-3.39],w118=.01;
var k119=[898,918,948,975,993,1013,1027,1048,1068,1101],e119=[-3.46,-3.5,-3.58,-3.52,-3.41,-3.3,-3.31,-3.37,-3.4,-3.4],w119=.01;
var k120=[898,918,943,955,975,998,1015,1033,1055,1065,1078,1101],e120=[-3.38,-3.41,-3.51,-3.6,-3.71,-3.7,-3.63,-3.6,-3.51,-3.56,-3.68,-3.83],w120=[.22,.22,.35,.38,.38,.38,.22,.2,.2,.08,.05,.03];
var k121=[955,973,993,1015],e121=[-3.6,-3.66,-3.64,-3.63],w121=.07;
var k122=[1027,1048,1068,1080,1090,1101],e122=[-3.63,-3.71,-3.81,-3.94,-4.04,-4.17],w122=[.22,.2,.18,.25,.35,.4];
var k123=[898,938,955,980,1005,1027,1048,1068,1088,1101,1130,1143,1193,1249,1304,1335,1362,1378,1397,1414,1452],e123=[-3.72,-3.72,-3.77,-3.86,-3.97,-4.02,-4.01,-3.96,-3.88,-3.77,-3.75,-3.74,-3.72,-3.72,-3.77,-3.9,-4,-4.02,-4.15,-4.24,-4.25],w123=.01;
var k124=[1101,1130,1143],e124=[-3.82,-3.82,-3.8],w124=.01;
var k125=[898,918,943,968,993,1013,1027,1055,1080,1101,1130,1155,1180,1205,1225,1249,1285,1304,1335,1360,1378,1393,1418,1452],e125=[-3.73,-3.77,-3.96,-4.19,-4.36,-4.46,-4.47,-4.52,-4.58,-4.58,-4.47,-4.34,-4.29,-4.38,-4.45,-4.45,-4.51,-4.56,-4.6,-4.62,-4.53,-4.47,-4.43,-4.35],w125=.03;
var k126=[898,930,955,975,993,1005,1015,1027,1068,1095,1101,1118,1143,1168,1180],e126=[-3.84,-3.88,-3.96,-4.09,-4.21,-4.27,-4.27,-4.24,-4.2,-4.15,-4.13,-4.02,-3.9,-3.75,-3.68],w126=[.03,.05,.1,.15,.4,.62,.78,.84,.84,.8,.7,.6,.5,.42,.35];
var k127=[1180,1205,1220],e127=[-3.68,-3.56,-3.43],w127=[.35,.2,.1];
var k128=[898,923,950,968,985,1005,1027,1048,1063,1078,1090,1101],e128=[-3.84,-3.83,-3.73,-3.7,-3.77,-3.94,-4.03,-3.9,-3.77,-3.67,-3.71,-3.82],w128=.01;
var k129=[898,930,963,990,1010,1027,1048,1068,1090,1101,1143],e129=[-4.44,-4.47,-4.59,-4.63,-4.59,-4.52,-4.59,-4.7,-4.82,-4.89,-5.05],w129=.02;
var k130=[898,930,963,993,1027,1068,1101],e130=[-4.44,-4.42,-4.32,-4.13,-4.03,-3.96,-3.82],w130=.01;
var k131=[1085,1101,1130,1168,1193,1218,1249,1272,1304,1329,1356,1378,1393,1418,1452],e131=[-5.05,-4.87,-4.84,-4.68,-4.55,-4.48,-4.44,-4.43,-4.35,-4.24,-4.07,-3.97,-3.89,-3.75,-3.7],w131=.01;
var k132=[975,1005,1027,1053,1073,1101,1118,1133,1150,1165],e132=[-5.05,-4.95,-4.86,-4.78,-4.72,-4.69,-4.72,-4.8,-4.93,-5.05],w132=[.3,.3,.12,.3,.35,.42,.42,.38,.38,.4];
var k133=[950,973,993,1010,1027,1048,1063,1080,1101],e133=[-5.05,-4.82,-4.68,-4.64,-4.72,-4.7,-4.59,-4.38,-4.19],w133=[.62,.6,.55,.42,.4,.35,.3,.27,.3];
var k134=[1101,1118,1138,1158,1175,1195],e134=[-4.2,-4.34,-4.51,-4.72,-4.89,-5.05],w134=[.5,.55,.6,.65,.65,.65];
var k135=[1101,1130,1155,1180,1213,1230,1249,1272,1304,1329,1356,1378],e135=[-4.18,-4.15,-4.09,-3.98,-3.86,-3.79,-3.84,-3.85,-3.95,-4.02,-3.92,-4.02],w135=[.28,.2,.15,.1,.05,.03,.02,.02,.02,.02,.02,.02];
var k136=[1133,1148,1165,1180,1198,1215,1230,1249,1268,1293,1318,1329,1356,1378],e136=[-3.83,-3.98,-4.1,-4.12,-4.02,-3.9,-3.77,-3.71,-3.8,-3.75,-3.71,-3.73,-3.92,-4.02],w136=[.02,.02,.02,.02,.02,.02,.02,.02,.05,.07,.05,.03,.02,.02];
var k137=[1101,1118,1133,1145,1168,1193,1223,1249],e137=[-3.41,-3.46,-3.58,-3.66,-3.64,-3.6,-3.5,-3.47],w137=.01;
var k138=[1130,1155,1180,1205,1220],e138=[-3.75,-3.64,-3.56,-3.48,-3.41],w138=.08;
var k139=[1249,1272,1283,1295,1310,1325,1345,1366,1378,1393,1408,1418,1433,1452],e139=[-3.39,-3.4,-3.47,-3.54,-3.64,-3.7,-3.7,-3.64,-3.59,-3.51,-3.48,-3.52,-3.64,-3.7],w139=[.15,.2,.3,.35,.3,.35,.35,.25,.2,.17,.15,.13,.07,.03];
var k140=[1268,1304,1329,1356,1370,1387,1408,1452],e140=[-3.39,-3.42,-3.37,-3.29,-3.28,-3.33,-3.38,-3.39],w140=[.08,.08,.06,.03,.02,.02,.02,.02];
var k141=[1249,1274,1304,1335,1366,1378],e141=[-3.29,-3.23,-3.15,-3.06,-2.99,-2.94],w141=.02;
var k142=[1249,1272,1304,1335,1356,1378],e142=[-3.47,-3.42,-3.3,-3.16,-3.09,-2.94],w142=.04;
var k143=[1249,1283,1304,1325,1341,1349,1360,1370,1378,1397,1429,1452],e143=[-3.85,-3.87,-3.95,-4.02,-4.14,-4.23,-4.28,-4.28,-4.25,-4.14,-4.04,-4],w143=[.03,.05,.1,.15,.25,.45,.65,.78,.83,.84,.83,.82];
var k144=[1262,1283,1310,1335,1360,1378,1393,1418,1452],e144=[-3.75,-3.92,-4.15,-4.33,-4.47,-4.47,-4.38,-4.29,-4.31],w144=.06;
var k145=[1249,1272,1304,1335,1356,1378,1397,1418,1452],e145=[-4.45,-4.46,-4.58,-4.63,-4.62,-4.53,-4.47,-4.43,-4.35],w145=.02;
var k146=[1378,1387,1397,1408,1420,1452],e146=[-2.96,-2.87,-3.01,-3.16,-3.23,-3.22],w146=[.1,.12,.2,.28,.3,.33];
var k147=[1378,1391,1408,1424,1439,1452],e147=[-2.94,-3.09,-3.32,-3.52,-3.65,-3.7],w147=.02;
var k148=[1329,1354,1374,1391,1410,1452],e148=[-5,-4.91,-4.86,-4.83,-4.81,-4.76],w148=[.3,.2,.15,.1,.05,.08];
var k149=[1410,1429,1452],e149=[-4.81,-4.7,-4.66],w149=[.85,.88,.92];
var k150=[1375,1397,1410],e150=[-5.05,-4.87,-4.81],w150=[.72,.78,.8];
var k151=[1300,1324,1341,1358,1378,1391,1401,1425],e151=[-5.05,-4.83,-4.68,-4.64,-4.73,-4.83,-4.91,-5.05],w151=[.62,.62,.55,.42,.38,.45,.55,.58];
var k152=[333,348,364,382,419,436,462,493],e152=[-3.62,-3.5,-3.37,-3.22,-3.14,-3.16,-3.24,-3.31],w152=.02;
var bandCount=152;

function interp(pts,v){for(var i=1;i<pts.length;i++){if(v<=pts[i][0]){var a=pts[i-1],b=pts[i];return a[1]+(b[1]-a[1])*(v-a[0])/(b[0]-a[0]);}}return pts[pts.length-1][1];}
var R=[[0,0],[.35,0],[.66,1],[.89,1],[1,.5]],G=[[0,0],[.125,0],[.375,1],[.64,1],[.91,0],[1,0]],B=[[0,.5],[.11,1],[.34,1],[.65,0],[1,0]];
function jet(v){return 'rgb('+[R,G,B].map(function(c){return Math.round(255*interp(c,v));}).join(',')+')';}
var stops=[0,.11,.125,.34,.35,.375,.64,.65,.66,.89,.91,1].map(function(s){return [s,jet(s)];});
// my low readings were a little dark against the reference blues
function cal(w){return interp([[0,0],[.02,.02],[.1,.15],[.2,.2],[1,1]],w);}

var traces=[];
var smooth=0.75,wGray=14.5,wCol=12;
function line(x,y,color,width){traces.push({x:x,y:y,type:'scatter',mode:'lines',hoverinfo:'skip',showlegend:false,line:{color:color,width:width,shape:x.length>2?'spline':'linear',smoothing:smooth}});}
for(var n=1;n<=bandCount;n++){
  var kk=window['k'+n],ee=window['e'+n],ww=window['w'+n];
  var pieces=[];
  if(typeof ww==='number'){pieces.push([0,kk.length-1,cal(ww)]);}
  else{
    var s=0;
    for(var j=1;j<kk.length;j++){
      var far=Math.abs(cal(ww[j])-cal(ww[s]))>0.04;
      if(far||j===kk.length-1){
        var last=far&&j>s+1?j-1:j,sum=0;
        for(var q=s;q<=last;q++)sum+=cal(ww[q]);
        pieces.push([s,j,sum/(last-s+1)]);
        s=j;
      }
    }
  }
  pieces.forEach(function(p){line(kk.slice(p[0],p[1]+1),ee.slice(p[0],p[1]+1),'#808080',wGray);});
  pieces.forEach(function(p){line(kk.slice(p[0],p[1]+1),ee.slice(p[0],p[1]+1),jet(p[2]),wCol);});
}
traces.push({x:[103],y:[100],type:'scatter',mode:'markers',hoverinfo:'skip',showlegend:false,marker:{size:1,color:[0.5],cmin:0,cmax:1,colorscale:stops,showscale:true,
  colorbar:{x:1.0029,xanchor:'left',y:0.5,yanchor:'middle',len:1,lenmode:'fraction',thickness:92,thicknessmode:'pixels',outlinewidth:6,outlinecolor:'#000',borderwidth:0,xpad:0,ypad:0,
    tickmode:'array',tickvals:weightTicks,ticktext:weightTickText,ticks:'outside',ticklen:17,tickwidth:4,tickcolor:'#000',tickfont:{family:'Liberation Serif',size:90,color:'#000'}}}});
var fnt={family:'Liberation Serif',size:90,color:'#000'};
var layout={width:3600,height:2160,paper_bgcolor:'#fff',plot_bgcolor:'#fff',showlegend:false,margin:{l:236,r:266,t:50,b:140,pad:0},font:fnt,
  xaxis:{range:[103,1452],tickmode:'array',tickvals:tickK,ticktext:tickLabels,ticks:'outside',ticklen:17,tickwidth:4,tickcolor:'#000',showgrid:false,zeroline:false,showline:true,mirror:true,linewidth:5,linecolor:'#000',tickfont:fnt,tickangle:0,ticklabelstandoff:-34},
  yaxis:{range:[-5,5],tickmode:'array',tickvals:energyTicks,ticktext:energyTickText,ticks:'outside',ticklen:17,tickwidth:4,tickcolor:'#000',showgrid:false,zeroline:false,showline:true,mirror:true,linewidth:5,linecolor:'#000',tickfont:fnt,
    minor:{tickmode:'array',tickvals:energyMinor,ticks:'outside',ticklen:9,tickwidth:3,tickcolor:'#000',showgrid:false},title:{text:'Energy [eV]',font:fnt,standoff:3}},
  shapes:tickK.slice(1,-1).map(function(v){return {type:'line',xref:'x',yref:'paper',x0:v,x1:v,y0:0,y1:1,layer:'above',line:{color:'rgba(0,0,0,0.45)',width:3}};})
};
Plotly.newPlot('g',traces,layout,{staticPlot:true,displayModeBar:false});
</script></body></html>
